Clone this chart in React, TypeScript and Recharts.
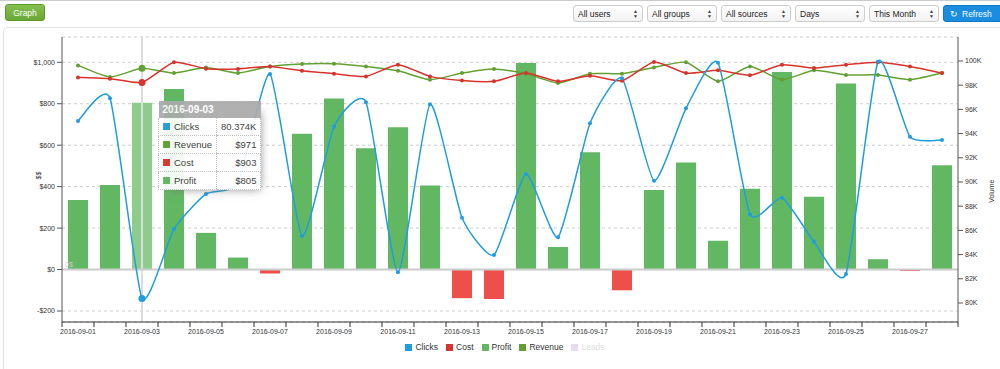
import React from "react";
import { ComposedChart, Bar, Line, XAxis, YAxis, CartesianGrid, Tooltip, ReferenceLine, Cell } from "recharts";

const dates = [
  "2016-09-01", "2016-09-02", "2016-09-03", "2016-09-04", "2016-09-05", "2016-09-06", "2016-09-07",
  "2016-09-08", "2016-09-09", "2016-09-10", "2016-09-11", "2016-09-12", "2016-09-13", "2016-09-14",
  "2016-09-15", "2016-09-16", "2016-09-17", "2016-09-18", "2016-09-19", "2016-09-20", "2016-09-21",
  "2016-09-22", "2016-09-23", "2016-09-24", "2016-09-25", "2016-09-26", "2016-09-27", "2016-09-28",
];
const clicks = [
  95040, 96920, 80374, 86120, 89010, 89940, 98930, 85540, 94570, 96590, 82540, 96420, 87050, 83970,
  90660, 85430, 94850, 98570, 90110, 96090, 99860, 87330, 88700, 85070, 82400, 99940, 93740, 93470,
];
const revenue = [
  985, 929, 971, 948, 975, 948, 980, 992, 993, 980, 959, 916, 948, 968,
  945, 900, 945, 945, 975, 1000, 908, 980, 916, 961, 939, 939, 916, 948,
];
const cost = [
  927, 921, 903, 1000, 969, 968, 980, 959, 945, 932, 988, 932, 912, 908,
  948, 908, 935, 911, 1001, 948, 961, 937, 988, 972, 988, 1000, 980, 948,
];
const profit = [
  335, 408, 805, 871, 177, 58, -19, 655, 825, 585, 687, 405, -138, -142,
  996, 109, 566, -100, 384, 516, 139, 390, 953, 351, 898, 50, -7, 503,
];
const moneyTicks = [-200, 0, 200, 400, 600, 800, 1000];
const volumeTicks = [80000, 82000, 84000, 86000, 88000, 90000, 92000, 94000, 96000, 98000, 100000];
const filters = ["All users", "All groups", "All sources", "Days", "This Month"];
const legendItems = [
  { name: "Clicks", color: "#1f9de0", hidden: false },
  { name: "Cost", color: "#d8332c", hidden: false },
  { name: "Profit", color: "#62b862", hidden: false },
  { name: "Revenue", color: "#63a033", hidden: false },
  { name: "Leads", color: "#e6dcf0", hidden: true },
];

const HOVER = 2;
const W = 1000;
const H = 369;
const M = { top: 37, right: 0, left: 12, bottom: 27 };
const LEFT_W = 50;
const RIGHT_W = 42;
const BAND = (W - M.left - LEFT_W - M.right - RIGHT_W) / dates.length;

const data = dates.map((date, i) => ({
  date,
  clicks: clicks[i],
  revenue: revenue[i],
  cost: cost[i],
  profit: profit[i],
}));

// cardinal spline like c3's default line interpolation
function cardinal(tension: number) {
  const k = (1 - tension) / 6;
  return (ctx: any) => {
    let pts: number[][] = [];
    return {
      areaStart() {},
      areaEnd() {},
      lineStart() {
        pts = [];
      },
      point(x: number, y: number) {
        pts.push([+x, +y]);
      },
      lineEnd() {
        const n = pts.length;
        if (!n) return;
        ctx.moveTo(pts[0][0], pts[0][1]);
        for (let i = 0; i < n - 1; i++) {
          const p0 = pts[Math.max(i - 1, 0)];
          const p1 = pts[i];
          const p2 = pts[i + 1];
          const p3 = pts[Math.min(i + 2, n - 1)];
          ctx.bezierCurveTo(
            p1[0] + k * (p2[0] - p0[0]), p1[1] + k * (p2[1] - p0[1]),
            p2[0] - k * (p3[0] - p1[0]), p2[1] - k * (p3[1] - p1[1]),
            p2[0], p2[1]
          );
        }
      },
    };
  };
}
const spline = cardinal(0.45);

const money = (v: number) => (v < 0 ? "-$" : "$") + Math.abs(v).toLocaleString("en-US");

function dotFor(color: string) {
  return (p: any) => (
    <circle key={`d-${color}-${p.index}`} cx={p.cx} cy={p.cy} r={p.index === HOVER ? 3.5 : 2} fill={color} />
  );
}

function DateTick(props: any) {
  const { x, y, payload } = props;
  const i = payload.index ?? props.index;
  const top = y - 7;
  return (
    <g>
      <line x1={x - BAND / 2} x2={x - BAND / 2} y1={top} y2={top + 5} stroke="#333" />
      {i === dates.length - 1 && <line x1={x + BAND / 2} x2={x + BAND / 2} y1={top} y2={top + 5} stroke="#333" />}
      {i % 2 === 0 && (
        <text x={x} y={y} dy="0.71em" textAnchor="middle" fontSize={7} fill="#333">
          {payload.value}
        </text>
      )}
    </g>
  );
}

function TipBox({ active, payload, label }: any) {
  if (!active || !payload || !payload.length) return null;
  const row = payload[0].payload;
  const rows = [
    { name: "Clicks", color: legendItems[0].color, value: (row.clicks / 1000).toFixed(3) + "K" },
    { name: "Revenue", color: legendItems[3].color, value: money(row.revenue) },
    { name: "Cost", color: legendItems[1].color, value: money(row.cost) },
    { name: "Profit", color: legendItems[2].color, value: money(row.profit) },
  ];
  const td: React.CSSProperties = {
    padding: "2px 4px",
    borderBottom: "1px dotted #bbb",
    background: "#fff",
    height: 13,
    whiteSpace: "nowrap",
  };
  return (
    <table
      style={{
        borderCollapse: "collapse",
        fontSize: 9.5,
        color: "#333",
        opacity: 0.92,
        boxShadow: "5px 5px 9px -6px #777",
        width: 103,
      }}
    >
      <tbody>
        <tr>
          <th colSpan={2} style={{ background: "#aaa", color: "#fff", textAlign: "left", padding: "2px 4px", height: 13, fontSize: 10 }}>
            {label}
          </th>
        </tr>
        {rows.map((r) => (
          <tr key={r.name}>
            <td style={{ ...td, borderLeft: "1px dotted #bbb" }}>
              <span style={{ display: "inline-block", width: 7, height: 7, background: r.color, marginRight: 4 }} />
              {r.name}
            </td>
            <td style={{ ...td, textAlign: "right", borderLeft: "1px dotted #bbb", borderRight: "1px dotted #bbb" }}>{r.value}</td>
          </tr>
        ))}
      </tbody>
    </table>
  );
}

function SelectBox({ text }: { text: string }) {
  return (
    <div
      style={{
        width: 70,
        height: 17,
        boxSizing: "border-box",
        border: "1px solid #ccc",
        borderRadius: 3,
        background: "linear-gradient(#fff, #f2f2f2)",
        fontSize: 8.5,
        color: "#222",
        display: "flex",
        alignItems: "center",
        justifyContent: "space-between",
        padding: "0 4px",
      }}
    >
      <span>{text}</span>
      <span style={{ fontSize: 5, lineHeight: "5px", display: "flex", flexDirection: "column", color: "#444" }}>
        <span>▲</span>
        <span>▼</span>
      </span>
    </div>
  );
}

export default function App() {
  return (
    <div
      style={{
        position: "absolute",
        left: 0,
        top: 0,
        width: W,
        height: H,
        overflow: "hidden",
        background: "#fff",
        fontFamily: "'Liberation Sans', Arial, sans-serif",
      }}
    >
      <div style={{ position: "absolute", left: 0, top: 0, width: W, height: 1, background: "#ccc" }} />
      <div
        style={{
          position: "absolute",
          left: 5,
          top: 4,
          width: 40,
          height: 17,
          boxSizing: "border-box",
          borderRadius: 3,
          border: "1px solid #5d9a2c",
          background: "linear-gradient(#86c04f, #68a737)",
          color: "#fff",
          fontSize: 8.5,
          display: "flex",
          alignItems: "center",
          justifyContent: "center",
        }}
      >
        Graph
      </div>
      <div style={{ position: "absolute", left: 573, top: 5, display: "flex", gap: 4 }}>
        {filters.map((f) => (
          <SelectBox key={f} text={f} />
        ))}
        <div
          style={{
            width: 60,
            height: 17,
            boxSizing: "border-box",
            borderRadius: 3,
            background: "#1a8de0",
            border: "1px solid #1479c4",
            color: "#fff",
            fontSize: 8.5,
            display: "flex",
            alignItems: "center",
            paddingLeft: 6,
            gap: 4,
          }}
        >
          <span>↻</span>
          <span>Refresh</span>
        </div>
      </div>
      <div
        style={{
          position: "absolute",
          left: 3,
          top: 27,
          width: W,
          height: H,
          boxSizing: "border-box",
          border: "1px solid #e4e4e4",
          borderRadius: 4,
        }}
      />
      <div style={{ position: "absolute", left: 0, top: 0 }}>
        <ComposedChart width={W} height={H} data={data} margin={M}>
          <CartesianGrid yAxisId="money" vertical={false} stroke="#ccc" strokeDasharray="3 3" />
          <XAxis
            dataKey="date"
            interval={0}
            height={20}
            tickSize={5}
            tickMargin={2}
            tickLine={false}
            tick={<DateTick />}
            axisLine={{ stroke: "#333" }}
          />
          <YAxis
            yAxisId="money"
            orientation="left"
            width={LEFT_W}
            domain={[-253, 1122]}
            ticks={moneyTicks}
            tickFormatter={money}
            tick={{ fontSize: 7, fill: "#333" }}
            tickSize={5}
            tickMargin={2}
            tickLine={{ stroke: "#555" }}
            axisLine={{ stroke: "#555" }}
            label={{ value: "$$", angle: -90, position: "insideLeft", offset: 27, fontSize: 7, fill: "#333" }}
          />
          <YAxis
            yAxisId="volume"
            orientation="right"
            width={RIGHT_W}
            domain={[78430, 101980]}
            ticks={volumeTicks}
            tickFormatter={(v: number) => `${v / 1000}K`}
            tick={{ fontSize: 7, fill: "#333" }}
            tickSize={5}
            tickMargin={2}
            tickLine={{ stroke: "#555" }}
            axisLine={{ stroke: "#555" }}
            label={{ value: "Volume", angle: -90, position: "insideRight", offset: 8, fontSize: 7, fill: "#333" }}
          />
          <ReferenceLine x={dates[HOVER]} yAxisId="money" stroke="#ddd" strokeWidth={2} />
          <ReferenceLine
            y={0}
            yAxisId="money"
            stroke="#ccc"
            strokeWidth={2}
            label={{ value: "0$", position: "insideBottomLeft", offset: 3, fontSize: 7, fill: "#ccc" }}
          />
          <Bar yAxisId="money" dataKey="profit" name="Profit" barSize={20} isAnimationActive={false}>
            {data.map((d, i) => (
              <Cell key={d.date} fill={d.profit < 0 ? "#ee4f4b" : i === HOVER ? "#8ccd8c" : "#62b862"} />
            ))}
          </Bar>
          <Line
            yAxisId="money"
            dataKey="revenue"
            name="Revenue"
            type={spline as any}
            stroke={legendItems[3].color}
            strokeWidth={1.5}
            dot={dotFor(legendItems[3].color)}
            activeDot={false}
            isAnimationActive={false}
          />
          <Line
            yAxisId="money"
            dataKey="cost"
            name="Cost"
            type={spline as any}
            stroke={legendItems[1].color}
            strokeWidth={1.5}
            dot={dotFor(legendItems[1].color)}
            activeDot={false}
            isAnimationActive={false}
          />
          <Line
            yAxisId="volume"
            dataKey="clicks"
            name="Clicks"
            type={spline as any}
            stroke={legendItems[0].color}
            strokeWidth={1.5}
            dot={dotFor(legendItems[0].color)}
            activeDot={false}
            isAnimationActive={false}
          />
          <Tooltip
            defaultIndex={HOVER}
            content={<TipBox />}
            cursor={false}
            position={{ x: 158, y: 101 }}
            isAnimationActive={false}
            wrapperStyle={{ outline: "none" }}
          />
        </ComposedChart>
      </div>
      <div
        style={{
          position: "absolute",
          left: 0,
          top: 342,
          width: W,
          display: "flex",
          justifyContent: "center",
          gap: 8,
          fontSize: 8.5,
          paddingLeft: 10,
          boxSizing: "border-box",
        }}
      >
        {legendItems.map((l) => (
          <div key={l.name} style={{ display: "flex", alignItems: "center", gap: 3, color: l.hidden ? "#ddd" : "#333" }}>
            <span style={{ display: "inline-block", width: 7, height: 7, background: l.color }} />
            {l.name}
          </div>
        ))}
      </div>
    </div>
  );
}
